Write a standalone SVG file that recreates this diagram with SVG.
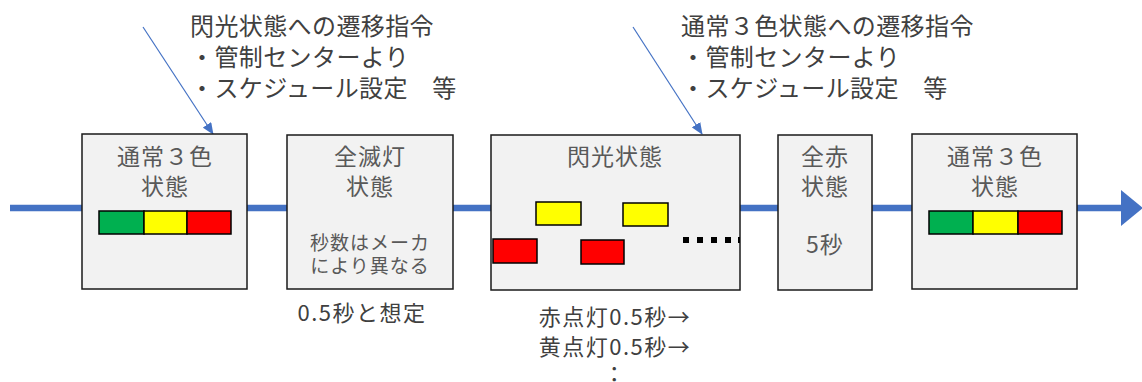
<svg xmlns="http://www.w3.org/2000/svg" width="1142" height="382" viewBox="0 0 1142 382">
<style>
text{font-family:"Noto Sans CJK JP","Noto Sans",sans-serif;}
.box{fill:#F2F2F2;stroke:#1a1a1a;stroke-width:1.5;}
.t{font-size:23px;fill:#595959;text-anchor:middle;letter-spacing:1px;}
.s{font-size:19px;fill:#595959;text-anchor:middle;letter-spacing:1px;}
.n{font-size:22px;fill:#404040;text-anchor:middle;letter-spacing:1.5px;}
.a{font-size:24px;fill:#404040;letter-spacing:0.4px;}
.main{stroke:#4472C4;stroke-width:6.5;fill:none;}
.thin{stroke:#4472C4;stroke-width:1.2;fill:none;}
.lamp{stroke:#000;stroke-width:1.5;}
.g{fill:#00B050;}.y{fill:#FFFF00;}.r{fill:#FF0000;}
</style>
<defs>
<marker id="ah" markerWidth="12" markerHeight="10" refX="11" refY="5" orient="auto" markerUnits="userSpaceOnUse">
<path d="M0,0 L12,5 L0,10 Z" fill="#4472C4"/>
</marker>
</defs>
<g id="connectors">
<line class="main" x1="10" y1="208" x2="82" y2="208"/>
<line class="main" x1="247" y1="208" x2="287" y2="208"/>
<line class="main" x1="453" y1="208" x2="491" y2="208"/>
<line class="main" x1="740" y1="208" x2="778" y2="208"/>
<line class="main" x1="872" y1="208" x2="912" y2="208"/>
<line class="main" x1="1077" y1="208" x2="1122" y2="208"/>
<polygon points="1121,190 1143,208 1121,226" fill="#4472C4"/>
<line class="thin" x1="143" y1="27" x2="213" y2="134" marker-end="url(#ah)"/>
<line class="thin" x1="633" y1="27" x2="702" y2="134" marker-end="url(#ah)"/>
</g>
<g id="note1">
<text class="a" x="190" y="35">閃光状態への遷移指令</text>
<text class="a" x="190" y="66">・管制センターより</text>
<text class="a" x="190" y="97">・スケジュール設定　等</text>
</g>
<g id="note2">
<text class="a" x="681" y="35">通常３色状態への遷移指令</text>
<text class="a" x="681" y="66">・管制センターより</text>
<text class="a" x="681" y="97">・スケジュール設定　等</text>
</g>
<g id="normal1">
<rect class="box" x="82" y="134" width="165" height="155"/>
<text class="t" x="165" y="165">通常３色</text>
<text class="t" x="165" y="195">状態</text>
<rect class="lamp g" x="99" y="211" width="45" height="23"/>
<rect class="lamp y" x="144" y="211" width="43" height="23"/>
<rect class="lamp r" x="187" y="211" width="44" height="23"/>
</g>
<g id="alloff">
<rect class="box" x="287" y="135" width="166" height="154"/>
<text class="t" x="370" y="165">全滅灯</text>
<text class="t" x="370" y="195">状態</text>
<text class="s" x="370" y="250">秒数はメーカ</text>
<text class="s" x="370" y="273">により異なる</text>
<text class="n" x="362" y="321">0.5秒と想定</text>
</g>
<g id="flash">
<rect class="box" x="491" y="135" width="249" height="155"/>
<text class="t" x="615" y="165">閃光状態</text>
<rect class="lamp y" x="536" y="202" width="45" height="23"/>
<rect class="lamp y" x="623" y="203" width="45" height="23"/>
<rect class="lamp r" x="493" y="239" width="44" height="24"/>
<rect class="lamp r" x="581" y="240" width="43" height="24"/>
<rect x="683" y="237" width="6" height="6" fill="#000"/>
<rect x="697" y="237" width="6" height="6" fill="#000"/>
<rect x="711" y="237" width="6" height="6" fill="#000"/>
<rect x="725" y="237" width="6" height="6" fill="#000"/>
<rect x="738" y="237" width="2" height="6" fill="#000"/>
<text class="n" x="615" y="325">赤点灯0.5秒→</text>
<text class="n" x="615" y="355">黄点灯0.5秒→</text>
<text class="n" x="615" y="382">：</text>
</g>
<g id="allred">
<rect class="box" x="778" y="135" width="94" height="155"/>
<text class="t" x="825" y="165">全赤</text>
<text class="t" x="825" y="195">状態</text>
<text class="t" x="825" y="253">5秒</text>
</g>
<g id="normal2">
<rect class="box" x="912" y="134" width="165" height="155"/>
<text class="t" x="995" y="165">通常３色</text>
<text class="t" x="995" y="195">状態</text>
<rect class="lamp g" x="929" y="211" width="44" height="23"/>
<rect class="lamp y" x="973" y="211" width="45" height="23"/>
<rect class="lamp r" x="1018" y="211" width="44" height="23"/>
</g>
</svg>
